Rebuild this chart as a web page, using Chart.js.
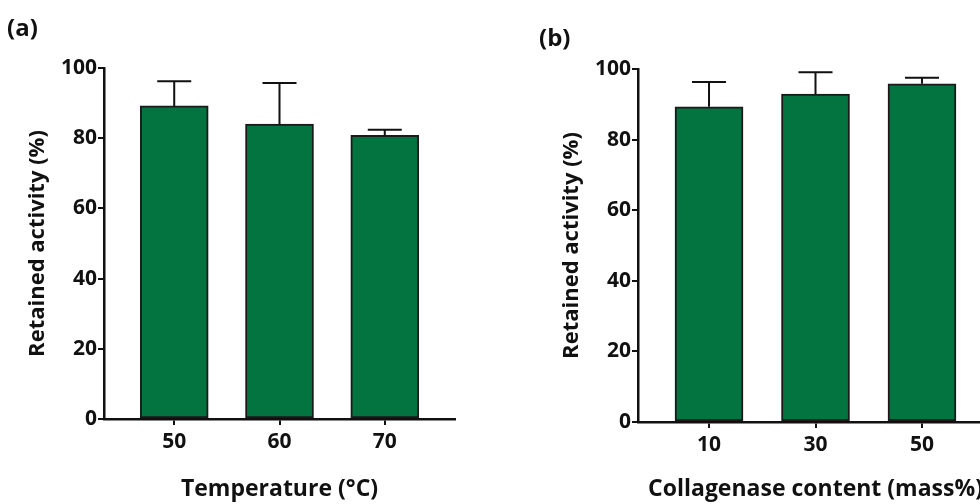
<!DOCTYPE html>
<html>
<head>
<meta charset="utf-8">
<script src="https://cdn.jsdelivr.net/npm/chart.js@4"></script>
<style>
  html, body { margin:0; padding:0; width:980px; height:504px; overflow:hidden; background:#fff; }
  #wrapA { position:absolute; left:0; top:0; width:490px; height:504px; }
  #wrapB { position:absolute; left:490px; top:0; width:530px; height:504px; }
  .lbl { position:absolute; font-family:"Open Sans"; font-weight:bold; font-size:24px; line-height:30px; color:#111; }
</style>
</head>
<body>
<div id="wrapA"><canvas id="cA" width="490" height="504"></canvas></div>
<div id="wrapB"><canvas id="cB" width="530" height="504"></canvas></div>
<div class="lbl" style="left:7px; top:12px;">(a)</div>
<div class="lbl" style="left:539px; top:22px;">(b)</div>
<script>
// Panel (a)
const tempCategories = ['50', '60', '70'];
const tempActivity = [89.2, 84.0, 80.8];
const tempError = [7.0, 11.7, 1.6];
// Panel (b)
const collCategories = ['10', '30', '50'];
const collActivity = [89.3, 92.9, 95.8];
const collError = [7.0, 6.2, 1.7];
const yTicks = [0, 20, 40, 60, 80, 100];

const FONT = '"Open Sans"';
const INK = '#111111';
const BAR = '#037440';

const errorBars = {
  id: 'errorBars',
  afterDatasetsDraw(chart, args, opts) {
    const ctx = chart.ctx;
    const meta = chart.getDatasetMeta(0);
    const ys = chart.scales.y;
    ctx.save();
    ctx.strokeStyle = INK;
    ctx.lineWidth = 2;
    opts.values.forEach((v, i) => {
      const bar = meta.data[i];
      const x = bar.x;
      const y0 = ys.getPixelForValue(v);
      const y1 = ys.getPixelForValue(v + opts.errors[i]);
      const hw = bar.width / 4;
      ctx.beginPath();
      ctx.moveTo(x, y0);
      ctx.lineTo(x, y1);
      ctx.moveTo(x - hw, y1);
      ctx.lineTo(x + hw, y1);
      ctx.stroke();
    });
    ctx.restore();
  }
};

function makeChart(id, cats, vals, errs, xTitle, cfg) {
  return new Chart(document.getElementById(id), {
    type: 'bar',
    data: {
      datasets: [{
        data: vals.map((v, i) => ({ x: i, y: v })),
        backgroundColor: BAR,
        borderColor: '#1a1a1a',
        borderWidth: 2,
        borderSkipped: false,
        barThickness: 68
      }]
    },
    options: {
      responsive: false,
      animation: false,
      events: [],
      layout: { padding: { top: cfg.top, right: cfg.right, left: 0, bottom: 0 } },
      plugins: {
        legend: { display: false },
        tooltip: { enabled: false },
        errorBars: { values: vals, errors: errs }
      },
      scales: {
        x: {
          type: 'linear',
          offset: false,
          min: -0.667,
          max: cats.length - 1 + 0.667,
          afterBuildTicks: s => { s.ticks = cats.map((c, i) => ({ value: i })); },
          afterFit: s => { s.height = cfg.xh; },
          grid: { offset: false, drawOnChartArea: false, drawTicks: true, tickLength: 6, color: INK, lineWidth: 2 },
          border: { display: true, color: INK, width: 2.5 },
          ticks: {
            padding: 4,
            color: INK,
            font: { family: FONT, weight: 'bold', size: 21 },
            callback: (v) => cats[v]
          },
          title: {
            display: true,
            text: xTitle,
            color: INK,
            font: { family: FONT, weight: 'bold', size: 23 },
            padding: { top: 0, bottom: 1 }
          }
        },
        y: {
          min: 0,
          max: 100,
          afterBuildTicks: s => { s.ticks = yTicks.map(v => ({ value: v })); },
          afterFit: s => { s.width = cfg.yw; },
          grid: { drawOnChartArea: false, drawTicks: true, tickLength: 6, color: INK, lineWidth: 2 },
          border: { display: true, color: INK, width: 2.5 },
          ticks: {
            padding: 1,
            color: INK,
            font: { family: FONT, weight: 'bold', size: 21 }
          },
          title: {
            display: true,
            text: 'Retained activity (%)',
            color: INK,
            font: { family: FONT, weight: 'bold', size: 22 },
            padding: { top: cfg.ytp, bottom: 0 }
          }
        }
      }
    },
    plugins: [errorBars]
  });
}

makeChart('cA', tempCategories, tempActivity, tempError, 'Temperature (°C)',
  { top: 68, right: 35, xh: 85, yw: 104, ytp: 25 });
makeChart('cB', collCategories, collActivity, collError, 'Collagenase content (mass%)',
  { top: 69, right: 27, xh: 82, yw: 148, ytp: 69 });
</script>
</body>
</html>
